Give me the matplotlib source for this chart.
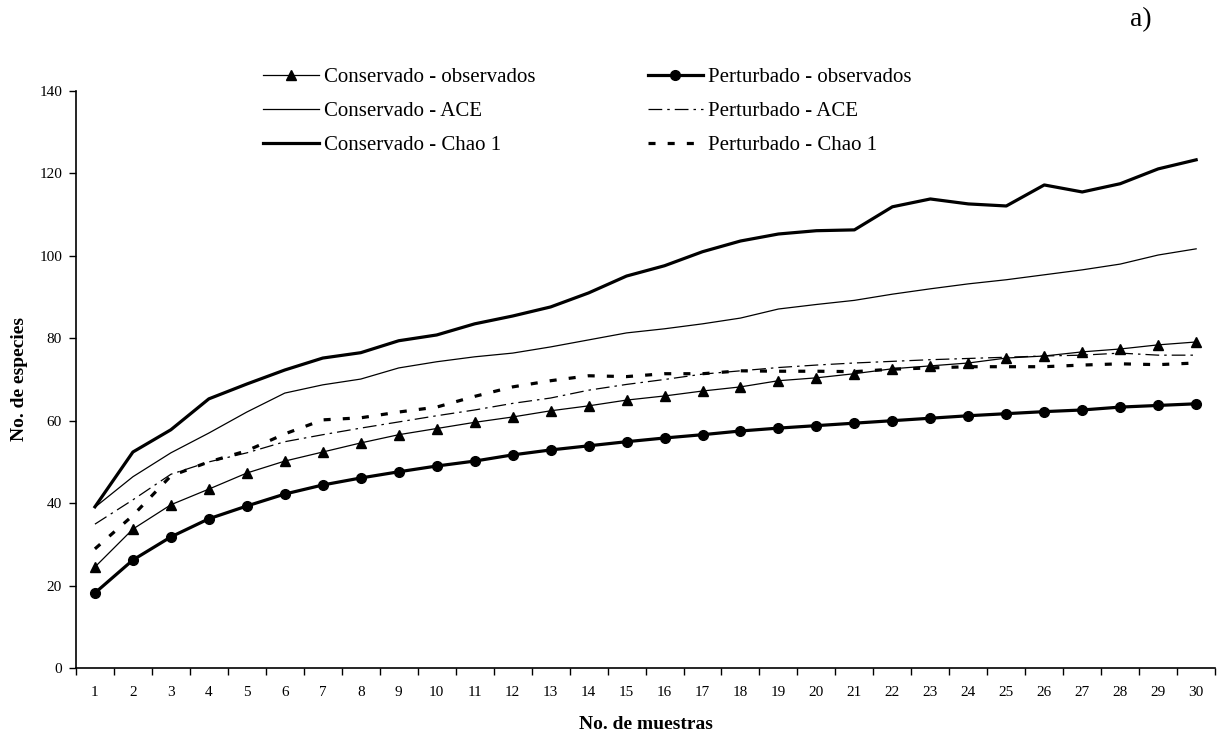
import numpy as np
import matplotlib
matplotlib.use("Agg")
import matplotlib.pyplot as plt

plt.rcParams['font.family'] = ['Liberation Serif', 'DejaVu Serif']

# Curvas de acumulación de especies (30 muestras)
muestras = list(range(1, 31))

cons_obs = [24.5, 33.7, 39.6, 43.4, 47.3, 50.2, 52.4, 54.6, 56.6, 58.1,
            59.6, 60.9, 62.4, 63.6, 65.0, 66.0, 67.2, 68.2, 69.7, 70.4,
            71.4, 72.6, 73.3, 74.0, 75.2, 75.7, 76.7, 77.4, 78.4, 79.1]
cons_ace = [39.0, 46.4, 52.2, 57.0, 62.1, 66.7, 68.7, 70.1, 72.8, 74.3,
            75.5, 76.4, 77.9, 79.6, 81.3, 82.3, 83.5, 84.9, 87.1, 88.2,
            89.2, 90.7, 92.0, 93.2, 94.2, 95.4, 96.6, 98.0, 100.2, 101.7]
cons_chao = [39.1, 52.4, 57.8, 65.3, 68.9, 72.3, 75.2, 76.5, 79.4, 80.8,
             83.5, 85.4, 87.6, 91.0, 95.1, 97.6, 101.0, 103.6, 105.3, 106.1,
             106.3, 111.9, 113.8, 112.6, 112.1, 117.2, 115.5, 117.5, 121.1, 123.3]
pert_obs = [18.2, 26.2, 31.8, 36.2, 39.3, 42.2, 44.4, 46.1, 47.6, 49.0,
            50.2, 51.7, 52.9, 53.9, 54.9, 55.8, 56.6, 57.5, 58.2, 58.8,
            59.4, 60.0, 60.6, 61.2, 61.7, 62.2, 62.6, 63.3, 63.7, 64.1]
pert_ace = [34.9, 40.8, 47.0, 50.0, 52.2, 54.9, 56.6, 58.2, 59.7, 61.2,
            62.6, 64.2, 65.5, 67.4, 68.8, 70.0, 71.3, 72.1, 72.9, 73.5,
            74.0, 74.4, 74.8, 75.1, 75.4, 75.7, 75.9, 76.4, 75.9, 75.9]
pert_chao = [28.9, 37.0, 46.6, 50.0, 52.7, 56.8, 60.2, 60.7, 62.1, 63.3,
             65.9, 68.2, 69.7, 70.9, 70.7, 71.4, 71.4, 72.1, 72.0, 72.0,
             71.9, 72.5, 72.8, 73.1, 73.1, 73.1, 73.5, 73.8, 73.6, 74.0]

fig = plt.figure(figsize=(12.21, 7.38), dpi=100)
ax = fig.add_axes([0.0622, 0.0949, 0.933, 0.7818])

ax.plot(muestras, cons_obs, color='black', lw=0.9, marker='^', markersize=6.5,
        label='Conservado - observados')
ax.plot(muestras, cons_ace, color='black', lw=0.9, label='Conservado - ACE')
ax.plot(muestras, cons_chao, color='black', lw=2.3, label='Conservado - Chao 1')
ax.plot(muestras, pert_obs, color='black', lw=2.3, marker='o', markersize=7,
        label='Perturbado - observados')
ax.plot(muestras, pert_ace, color='black', lw=0.9, dashes=(11, 4, 2, 4),
        label='Perturbado - ACE')
ax.plot(muestras, pert_chao, color='black', lw=2.3, dashes=(2.2, 3.8),
        label='Perturbado - Chao 1')

ax.set_xlim(0.5, 30.5)
ax.set_ylim(0, 140)
ax.set_yticks(range(0, 141, 20))
ax.set_xticks(muestras)
ax.set_xticks(np.arange(0.5, 31, 1), minor=True)
ax.tick_params(axis='x', which='major', length=0, labelsize=11, pad=13)
ax.tick_params(axis='x', which='minor', length=5, width=1, direction='out')
ax.tick_params(axis='y', length=5, width=1, direction='out', labelsize=11, pad=5)

for lado in ['top', 'right']:
    ax.spines[lado].set_visible(False)
ax.spines['left'].set_linewidth(1.2)
ax.spines['bottom'].set_linewidth(1.2)

ax.set_xlabel('No. de muestras', fontweight='bold', fontsize=14, labelpad=12)
ax.set_ylabel('No. de especies', fontweight='bold', fontsize=14, labelpad=8)

ax.legend(loc='upper left', bbox_to_anchor=(0.1554, 1.059), ncol=2, frameon=False,
          fontsize=15, handlelength=2.65, handletextpad=0.25, labelspacing=0.7,
          columnspacing=5.4, borderpad=0, numpoints=1)

fig.text(0.934, 0.973, 'a)', fontsize=20, ha='center', va='center')

fig.savefig('out.png', dpi=100)
